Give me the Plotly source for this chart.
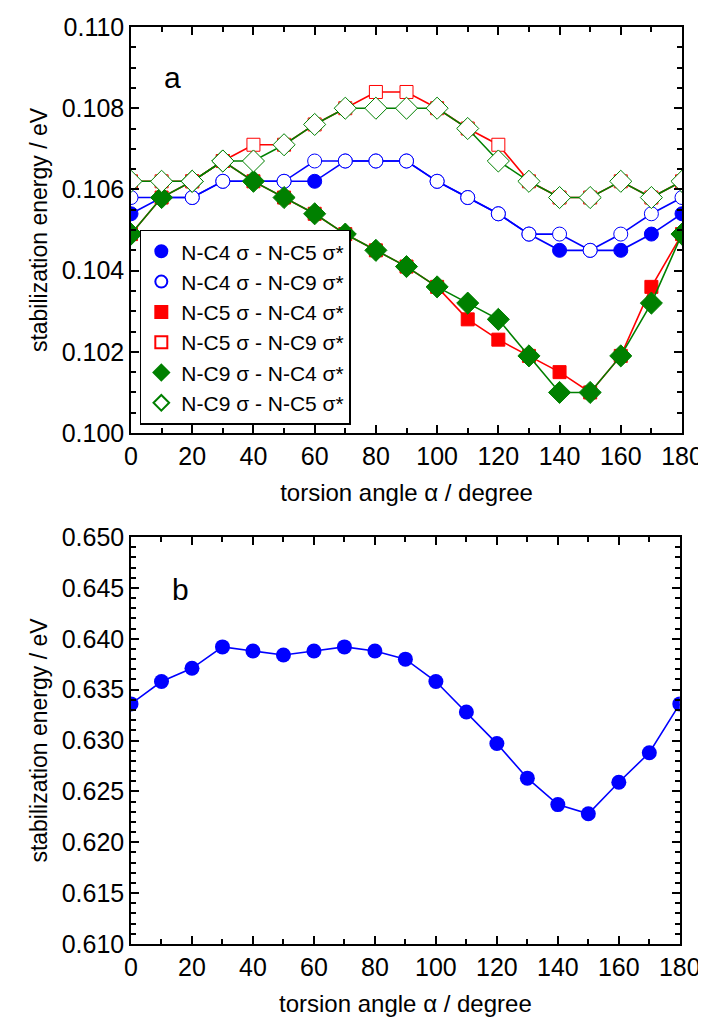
import plotly.graph_objects as go

# ---------------- data ----------------
angles = [0, 10, 20, 30, 40, 50, 60, 70, 80, 90, 100, 110, 120, 130, 140, 150, 160, 170, 180]

c4_c5 = [0.1054, 0.1058, 0.1058, 0.1062, 0.1062, 0.1062, 0.1062, 0.1067, 0.1067, 0.1067,
         0.1062, 0.1058, 0.1054, 0.1049, 0.1045, 0.1045, 0.1045, 0.1049, 0.1054]
c4_c9 = [0.1058, 0.1058, 0.1058, 0.1062, 0.1062, 0.1062, 0.1067, 0.1067, 0.1067, 0.1067,
         0.1062, 0.1058, 0.1054, 0.1049, 0.1049, 0.1045, 0.1049, 0.1054, 0.1058]
c5_c4 = [0.1049, 0.1058, 0.1062, 0.1067, 0.1062, 0.1058, 0.1054, 0.1049, 0.1045, 0.1041,
         0.1036, 0.1028, 0.1023, 0.1019, 0.1015, 0.1010, 0.1019, 0.1036, 0.1049]
c5_c9 = [0.1062, 0.1062, 0.1062, 0.1067, 0.1071, 0.1071, 0.1076, 0.1080, 0.1084, 0.1084,
         0.1080, 0.1075, 0.1071, 0.1062, 0.1058, 0.1058, 0.1062, 0.1058, 0.1062]
c9_c4 = [0.1049, 0.1058, 0.1062, 0.1067, 0.1062, 0.1058, 0.1054, 0.1049, 0.1045, 0.1041,
         0.1036, 0.1032, 0.1028, 0.1019, 0.1010, 0.1010, 0.1019, 0.1032, 0.1049]
c9_c5 = [0.1062, 0.1062, 0.1062, 0.1067, 0.1067, 0.1071, 0.1076, 0.1080, 0.1080, 0.1080,
         0.1080, 0.1075, 0.1067, 0.1062, 0.1058, 0.1058, 0.1062, 0.1058, 0.1062]

total_b = [0.6336, 0.6358, 0.6371, 0.6392, 0.6388, 0.6384, 0.6388, 0.6392, 0.6388, 0.6380,
           0.6358, 0.6328, 0.6297, 0.6263, 0.6237, 0.6228, 0.6259, 0.6288, 0.6336]

names = ["N-C4 σ - N-C5 σ*", "N-C4 σ - N-C9 σ*", "N-C5 σ - N-C4 σ*",
         "N-C5 σ - N-C9 σ*", "N-C9 σ - N-C4 σ*", "N-C9 σ - N-C5 σ*"]

x_ticks = [0, 20, 40, 60, 80, 100, 120, 140, 160, 180]

# ---------------- style ----------------
FONT = "Liberation Sans, Arial, sans-serif"
BLUE = "#0000FF"
RED = "#FF0000"
GREEN = "#008000"

series_a = [
    (c4_c5, BLUE, "circle", 14, True),
    (c4_c9, BLUE, "circle", 14, False),
    (c5_c4, RED, "square", 13, True),
    (c5_c9, RED, "square", 13, False),
    (c9_c4, GREEN, "diamond", 17, True),
    (c9_c5, GREEN, "diamond", 17, False),
]

fig = go.Figure()

for (vals, col, sym, sz, filled), nm in zip(series_a, names):
    fig.add_trace(go.Scatter(
        x=angles, y=vals, mode="lines+markers", name=nm, showlegend=False,
        line=dict(color=col, width=1.6),
        marker=dict(symbol=sym, size=sz, color=col if filled else "white",
                    line=dict(color=col, width=1)),
        xaxis="x", yaxis="y"))

# legend entries (markers only)
for (vals, col, sym, sz, filled), nm in zip(series_a, names):
    fig.add_trace(go.Scatter(
        x=[None], y=[None], mode="markers", name=nm, showlegend=True,
        marker=dict(symbol=sym, size=12, color=col if filled else "white",
                    line=dict(color=col, width=1)),
        xaxis="x", yaxis="y"))

fig.add_trace(go.Scatter(
    x=angles, y=total_b, mode="lines+markers", showlegend=False,
    line=dict(color=BLUE, width=1.6),
    marker=dict(symbol="circle", size=15, color=BLUE),
    xaxis="x2", yaxis="y2"))

axis_common = dict(
    showline=True, linecolor="black", linewidth=1.5, mirror="allticks",
    ticks="inside", ticklen=8, tickwidth=1.5, tickcolor="black",
    showgrid=False, zeroline=False, automargin=False,
    tickfont=dict(family=FONT, size=25, color="black"),
    title_font=dict(family=FONT, size=23, color="black"),
)

xcommon = dict(axis_common, range=[0, 180], tickvals=x_ticks,
               minor=dict(ticks="inside", ticklen=5, tickwidth=1.5, dtick=10, tick0=0,
                          tickcolor="black", showgrid=False),
               title_text="torsion angle α / degree", title_standoff=15,
               title_font=dict(family=FONT, size=24, color="black"))

# the page body adds an offset, so the figure is slightly smaller than the window
fig.update_layout(
    width=698, height=1012,
    paper_bgcolor="white", plot_bgcolor="white",
    margin=dict(l=123, r=24, t=19, b=76),
    xaxis=dict(xcommon, domain=[0, 1], anchor="y"),
    yaxis=dict(axis_common, domain=[0.5572, 1.0], anchor="x", range=[0.100, 0.110],
               dtick=0.002, tick0=0.100, tickformat=".3f",
               minor=dict(ticks="inside", ticklen=5, tickwidth=1.5, dtick=0.0005,
                          tick0=0.100, tickcolor="black", showgrid=False),
               title_text="stabilization energy / eV", title_standoff=8),
    xaxis2=dict(xcommon, domain=[0, 0.996], anchor="y2"),
    yaxis2=dict(axis_common, domain=[0.0, 0.4438], anchor="x2", range=[0.610, 0.650],
                dtick=0.005, tick0=0.610, tickformat=".3f",
                minor=dict(ticks="inside", ticklen=5, tickwidth=1.5, dtick=0.001,
                           tick0=0.610, tickcolor="black", showgrid=False),
                title_text="stabilization energy / eV", title_standoff=8),
    legend=dict(x=0.016, y=0.779, xanchor="left", yanchor="top",
                bgcolor="white", bordercolor="black", borderwidth=1.5,
                font=dict(family=FONT, size=21, color="black"),
                itemsizing="constant", tracegroupgap=0),
    annotations=[
        dict(text="a", x=0.075, y=0.875, xref="x domain", yref="y domain",
             xanchor="center", yanchor="middle",
             showarrow=False, font=dict(family=FONT, size=30, color="black")),
        dict(text="b", x=0.09, y=0.87, xref="x2 domain", yref="y2 domain",
             xanchor="center", yanchor="middle",
             showarrow=False, font=dict(family=FONT, size=30, color="black")),
    ],
)

fig.write_html("out.html")
